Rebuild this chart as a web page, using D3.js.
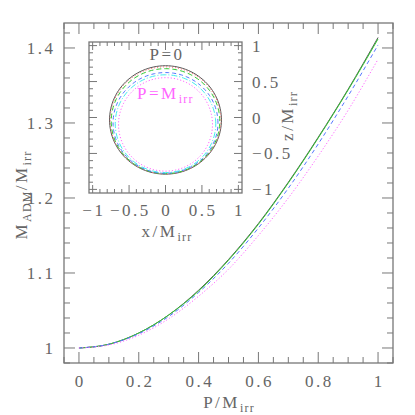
<!DOCTYPE html>
<html>
<head>
<meta charset="utf-8">
<script src="https://cdn.jsdelivr.net/npm/d3@7"></script>
<style>
  body { margin: 0; background: #fff; }
  svg text { font-family: "Liberation Serif", "DejaVu Serif", serif; fill: #666; letter-spacing: 2.5px; }
  svg tspan.sub { font-size: 12px; letter-spacing: 1.2px; }
</style>
</head>
<body>
<svg id="chart" width="415" height="415"></svg>
<script>
// main panel: M_ADM/M_irr against P/M_irr
var pValues = [0, 0.1, 0.2, 0.3, 0.4, 0.5, 0.6, 0.7, 0.8, 0.9, 1.0];
var massBlack   = [1.000, 1.005, 1.020, 1.044, 1.077, 1.118, 1.166, 1.221, 1.281, 1.345, 1.414];
var massGreen   = [1.000, 1.005, 1.020, 1.044, 1.076, 1.117, 1.165, 1.220, 1.280, 1.344, 1.412];
var massBlue    = [1.000, 1.005, 1.019, 1.042, 1.074, 1.113, 1.160, 1.213, 1.272, 1.336, 1.404];
var massMagenta = [1.000, 1.004, 1.017, 1.039, 1.069, 1.105, 1.150, 1.200, 1.256, 1.317, 1.385];
var xTicks = [0, 0.2, 0.4, 0.6, 0.8, 1];
var yTicks = [1, 1.1, 1.2, 1.3, 1.4];

// inset: horizon shapes for P = 0 ... M_irr (x radius, z radius, z centre)
var horizonP  = [0, 0.2, 0.4, 0.6, 0.8, 1.0];
var horizonRx = [0.768, 0.760, 0.745, 0.720, 0.690, 0.645];
var horizonRz = [0.754, 0.745, 0.730, 0.700, 0.680, 0.650];
var horizonZc = [-0.034, -0.040, -0.051, -0.075, -0.086, -0.096];
var insetTicks = [-1, -0.5, 0, 0.5, 1];

var styles = [
  { color: "#555",    dash: null },
  { color: "#ff7070", dash: "1,2" },
  { color: "#33c833", dash: "5,3" },
  { color: "#5577ff", dash: "4,3" },
  { color: "#44eeee", dash: "6,2,1,2" },
  { color: "#ff66ff", dash: "1.2,2" }
];
var mainSeries = [
  { values: massBlack,   style: styles[0] },
  { values: massGreen,   style: { color: "#33c833", dash: null } },
  { values: massBlue,    style: styles[3] },
  { values: massMagenta, style: styles[5] }
];

var svg = d3.select("#chart");
var axisColor = "#777";
var ls = 2.5;  // letter spacing, compensated on centred text

var x = d3.scaleLinear().domain([-0.05, 1.05]).range([64, 393]);
var y = d3.scaleLinear().domain([0.98, 1.4333]).range([363, 23]);

function fmt(d) { return d < 0 ? "\u2212" + Math.abs(d) : String(d); }

function drawFrame(g, xs, ys, xMinor, xMajor, yMinor, yMajor, minorLen, majorLen) {
  var x0 = xs.range()[0], x1 = xs.range()[1];
  var y0 = ys.range()[0], y1 = ys.range()[1];
  g.append("rect")
    .attr("x", x0).attr("y", y1)
    .attr("width", x1 - x0).attr("height", y0 - y1)
    .attr("fill", "#fff").attr("stroke", axisColor).attr("stroke-width", 1.3);
  function isMajor(v, step) { return Math.abs(v / step - Math.round(v / step)) < 1e-6; }
  var xt = d3.range(Math.ceil(xs.domain()[0] / xMinor - 1e-6), Math.floor(xs.domain()[1] / xMinor + 1e-6) + 1)
    .map(function(i) { return i * xMinor; });
  var yt = d3.range(Math.ceil(ys.domain()[0] / yMinor - 1e-6), Math.floor(ys.domain()[1] / yMinor + 1e-6) + 1)
    .map(function(i) { return i * yMinor; });
  xt.forEach(function(v) {
    var len = isMajor(v, xMajor) ? majorLen : minorLen;
    var px = xs(v);
    g.append("line").attr("x1", px).attr("x2", px).attr("y1", y0).attr("y2", y0 - len)
      .attr("stroke", axisColor).attr("stroke-width", 1);
    g.append("line").attr("x1", px).attr("x2", px).attr("y1", y1).attr("y2", y1 + len)
      .attr("stroke", axisColor).attr("stroke-width", 1);
  });
  yt.forEach(function(v) {
    var len = isMajor(v, yMajor) ? majorLen : minorLen;
    var py = ys(v);
    g.append("line").attr("x1", x0).attr("x2", x0 + len).attr("y1", py).attr("y2", py)
      .attr("stroke", axisColor).attr("stroke-width", 1);
    g.append("line").attr("x1", x1).attr("x2", x1 - len).attr("y1", py).attr("y2", py)
      .attr("stroke", axisColor).attr("stroke-width", 1);
  });
}

// main frame
var main = svg.append("g");
drawFrame(main, x, y, 0.05, 0.2, 0.02, 0.1, 6, 11);

var line = d3.line()
  .x(function(d, i) { return x(pValues[i]); })
  .y(function(d) { return y(d); })
  .curve(d3.curveMonotoneX);

main.selectAll("path.series")
  .data(mainSeries)
  .enter()
  .append("path")
  .attr("class", "series")
  .attr("d", function(s) { return line(s.values); })
  .attr("fill", "none")
  .attr("stroke", function(s) { return s.style.color; })
  .attr("stroke-width", 1)
  .attr("stroke-dasharray", function(s) { return s.style.dash; });

main.selectAll("text.xt")
  .data(xTicks)
  .enter()
  .append("text")
  .attr("x", function(d) { return x(d) + ls / 2; })
  .attr("y", 387)
  .attr("text-anchor", "middle")
  .style("font-size", "17px")
  .text(fmt);

main.selectAll("text.yt")
  .data(yTicks)
  .enter()
  .append("text")
  .attr("x", 53 + ls)
  .attr("y", function(d) { return y(d) + 6; })
  .attr("text-anchor", "end")
  .style("font-size", "17px")
  .text(fmt);

var xl = main.append("text").attr("x", 229).attr("y", 408).attr("text-anchor", "middle")
  .style("font-size", "17px");
xl.append("tspan").text("P/M");
xl.append("tspan").attr("class", "sub").attr("dy", 4).text("irr");

var yl = main.append("text").attr("transform", "translate(27,195) rotate(-90)")
  .attr("text-anchor", "middle").style("font-size", "17px");
yl.append("tspan").text("M");
yl.append("tspan").attr("class", "sub").attr("dy", 4).text("ADM");
yl.append("tspan").attr("dy", -4).text("/M");
yl.append("tspan").attr("class", "sub").attr("dy", 4).text("irr");

// inset
var ix = d3.scaleLinear().domain([-1.05, 1.05]).range([89, 242]);
var iz = d3.scaleLinear().domain([-1.05, 1.05]).range([193, 42]);
var inset = svg.append("g");
drawFrame(inset, ix, iz, 0.1, 0.5, 0.1, 0.5, 4, 8);

var angles = d3.range(0, 361, 3).map(function(a) { return a * Math.PI / 180; });
var ring = d3.line()
  .x(function(d) { return d[0]; })
  .y(function(d) { return d[1]; });

inset.selectAll("path.horizon")
  .data(horizonP)
  .enter()
  .append("path")
  .attr("class", "horizon")
  .attr("d", function(p, i) {
    return ring(angles.map(function(a) {
      return [ix(horizonRx[i] * Math.cos(a)), iz(horizonZc[i] + horizonRz[i] * Math.sin(a))];
    }));
  })
  .attr("fill", "none")
  .attr("stroke", function(p, i) { return styles[i].color; })
  .attr("stroke-width", 1)
  .attr("stroke-dasharray", function(p, i) { return styles[i].dash; });

inset.selectAll("text.ixt")
  .data(insetTicks)
  .enter()
  .append("text")
  .attr("x", function(d) { return ix(d) + ls / 2; })
  .attr("y", 216)
  .attr("text-anchor", "middle")
  .style("font-size", "17px")
  .text(fmt);

inset.selectAll("text.izt")
  .data(insetTicks)
  .enter()
  .append("text")
  .attr("x", 252)
  .attr("y", function(d) { return iz(d) + 6; })
  .attr("text-anchor", "start")
  .style("font-size", "17px")
  .text(fmt);

var ixl = inset.append("text").attr("x", 167).attr("y", 237).attr("text-anchor", "middle")
  .style("font-size", "17px");
ixl.append("tspan").text("x/M");
ixl.append("tspan").attr("class", "sub").attr("dy", 4).text("irr");

var izl = inset.append("text").attr("transform", "translate(293,116) rotate(-90)")
  .attr("text-anchor", "middle").style("font-size", "17px");
izl.append("tspan").text("z/M");
izl.append("tspan").attr("class", "sub").attr("dy", 4).text("irr");

inset.append("text").attr("x", 167).attr("y", 60).attr("text-anchor", "middle")
  .style("font-size", "17px").text("P=0");
var pm = inset.append("text").attr("x", 137).attr("y", 99)
  .style("font-size", "17px").style("fill", "#ff66ff");
pm.append("tspan").text("P=M");
pm.append("tspan").attr("class", "sub").attr("dy", 4).text("irr");
</script>
</body>
</html>
